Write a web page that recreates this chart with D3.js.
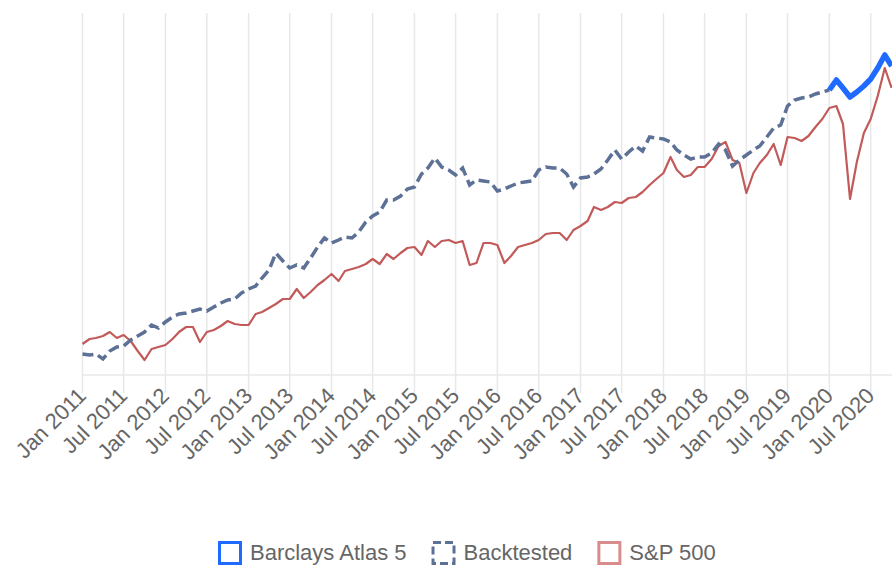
<!DOCTYPE html>
<html>
<head>
<meta charset="utf-8">
<script src="https://cdn.jsdelivr.net/npm/d3@7"></script>
<style>
  body{margin:0;background:#fff;}
  svg{display:block;font-family:"Liberation Sans",Arial,sans-serif;}
</style>
</head>
<body>
<div class="canvas"></div>
<script>
// monthly index levels (month-end, plotted at the 1st of the next month)
const startMonth=new Date(2011,0,1);
const endMonth=new Date(2020,9,1);

const spx=[99,104,105,107,111,105,108,102,92,83,
  94,96,98,104,111,116,116,101,111,113,
  117,122,119,118,118,129,131,135,139,144,
  144,154,145,151,158,163,169,162,172,174,
  176,179,184,179,189,184,190,195,196,188,
  202,196,202,203,200,202,178,180,200,200,
  198,180,187,196,198,200,203,209,210,210,
  203,213,217,222,236,233,236,241,240,245,
  246,251,258,264,270,286,273,266,268,276,
  276,284,297,301,283,280,250,270,280,288,
  299,278,306,305,302,307,316,324,335,337,
  319,244,281,310,324,347,375,355];

const backtested=[89,88,89,84,92,96,97,103,107,111,
  118,115,121,126,129,130,132,134,132,136,
  140,143,144,150,154,157,165,173,190,182,
  175,178,175,185,196,205,200,203,206,205,
  211,221,227,231,243,243,247,254,256,269,
  275,285,276,273,268,275,258,263,262,261,
  252,254,257,260,261,262,273,276,275,275,
  269,256,265,266,269,274,283,293,284,291,
  297,292,306,305,304,301,293,288,284,286,
  286,290,299,293,277,283,288,293,297,306,
  315,318,337,343,345,346,349,351,353];

// live series starts where the backtest ends
const atlasStart=108;
const atlas=[353,363,355,346,351,357,364,375,388,377];

const seriesNames=['Barclays Atlas 5','Backtested','S&P 500'];
const tickLabels=['Jan 2011','Jul 2011','Jan 2012','Jul 2012','Jan 2013','Jul 2013',
  'Jan 2014','Jul 2014','Jan 2015','Jul 2015','Jan 2016','Jul 2016','Jan 2017',
  'Jul 2017','Jan 2018','Jul 2018','Jan 2019','Jul 2019','Jan 2020','Jul 2020'];

const dims={width:892,height:573};
const plot={left:82.5,top:13,bottom:375};

const months=d3.timeMonth.range(startMonth,d3.timeMonth.offset(endMonth,1));
const parse=d3.timeParse('%b %Y');
const tickDates=tickLabels.map(parse);

const svg=d3.select('.canvas')
  .append('svg')
  .attr('width',dims.width)
  .attr('height',dims.height);

//x runs past the right edge, chart is cut off there
const x=d3.scaleTime()
  .domain([new Date(2011,0,1),new Date(2021,0,1)])
  .range([plot.left,plot.left+20*41.5]);

const y=d3.scaleLinear()
  .domain([68,430])
  .range([plot.bottom,plot.top]);

//grid
const grid=svg.append('g');
grid.selectAll('line.v')
  .data(tickDates)
  .enter().append('line')
  .attr('class','v')
  .attr('x1',d=>x(d)).attr('x2',d=>x(d))
  .attr('y1',plot.top).attr('y2',plot.bottom+18)
  .attr('stroke','#e8e8e8')
  .attr('stroke-width',1.5);
grid.append('line')
  .attr('x1',plot.left).attr('x2',dims.width)
  .attr('y1',plot.bottom).attr('y2',plot.bottom)
  .attr('stroke','#e8e8e8')
  .attr('stroke-width',1.5);

//tick labels, rotated
svg.append('g')
  .selectAll('text')
  .data(tickDates)
  .enter().append('text')
  .attr('transform',(d)=>`translate(${x(d)+5},${plot.bottom+22}) rotate(-45)`)
  .attr('text-anchor','end')
  .attr('font-size',22)
  .attr('fill','#666')
  .text((d,i)=>tickLabels[i]);

const line=d3.line()
  .x(d=>x(d.date))
  .y(d=>y(d.value));

const spxData=spx.map((v,i)=>({date:months[i],value:v}));
const btData=backtested.map((v,i)=>({date:months[i],value:v}));
const atlasData=atlas.map((v,i)=>({date:months[atlasStart+i],value:v}));

const colours={'Barclays Atlas 5':'#1f6bff','Backtested':'#5d7196','S&P 500':'#c25a5a'};

svg.append('path')
  .datum(spxData)
  .attr('d',line)
  .attr('fill','none')
  .attr('stroke',colours['S&P 500'])
  .attr('stroke-width',2.2)
  .attr('stroke-linejoin','round');

svg.append('path')
  .datum(btData)
  .attr('d',line)
  .attr('fill','none')
  .attr('stroke',colours['Backtested'])
  .attr('stroke-width',3.5)
  .attr('stroke-dasharray','11,5');

svg.append('path')
  .datum(atlasData)
  .attr('d',line)
  .attr('fill','none')
  .attr('stroke',colours['Barclays Atlas 5'])
  .attr('stroke-width',5.5)
  .attr('stroke-linejoin','round');

//legend
const legend=svg.append('g').attr('transform','translate(218,541)');
let lx=0;
seriesNames.forEach(name=>{
  const item=legend.append('g').attr('transform',`translate(${lx},0)`);
  item.append('rect')
    .attr('x',1.5).attr('y',1.5)
    .attr('width',21).attr('height',21)
    .attr('fill','#fff')
    .attr('stroke',name==='S&P 500'?'#d98c8c':colours[name])
    .attr('stroke-width',3)
    .attr('stroke-dasharray',name==='Backtested'?'8,4':null);
  const t=item.append('text')
    .attr('x',32).attr('y',19)
    .attr('font-size',22)
    .attr('fill','#666')
    .text(name);
  lx+=32+t.node().getComputedTextLength()+25;
});
</script>
</body>
</html>
